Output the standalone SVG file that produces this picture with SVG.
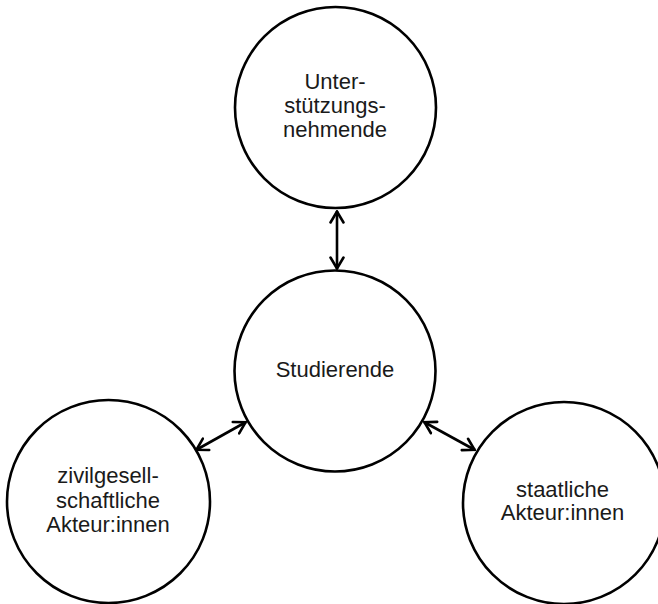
<svg xmlns="http://www.w3.org/2000/svg" width="658" height="604" viewBox="0 0 658 604">
<style>
.node circle{fill:#fff;stroke:#000;stroke-width:2.6}
.lbl{font-family:"Liberation Sans",Arial,sans-serif;font-size:22px;fill:#1a1a1a;text-anchor:middle}
.conn line{stroke:#000;stroke-width:2.6;fill:none}
</style>
<defs>
<marker id="ah" viewBox="0 0 14 16" refX="13" refY="8" markerWidth="14" markerHeight="16" markerUnits="userSpaceOnUse" orient="auto-start-reverse">
<path d="M1.5,1.5 L12.5,8 L1.5,14.5" fill="none" stroke="#000" stroke-width="2.6" stroke-linecap="round" stroke-linejoin="miter"/>
</marker>
</defs>
<rect width="658" height="604" fill="#fff"/>
<g id="conn" class="conn">
<line x1="337" y1="211" x2="337" y2="269" marker-start="url(#ah)" marker-end="url(#ah)"/>
<line x1="196" y1="450" x2="246" y2="422" marker-start="url(#ah)" marker-end="url(#ah)"/>
<line x1="424" y1="422" x2="475" y2="450" marker-start="url(#ah)" marker-end="url(#ah)"/>
</g>
<g id="node-top" class="node">
<circle cx="335.5" cy="107.5" r="100.5"/>
<text class="lbl" x="335" y="89">Unter-</text>
<text class="lbl" x="335" y="113">stützungs-</text>
<text class="lbl" x="335" y="137">nehmende</text>
</g>
<g id="node-center" class="node">
<circle cx="335" cy="371" r="100.5"/>
<text class="lbl" x="335" y="377">Studierende</text>
</g>
<g id="node-left" class="node">
<circle cx="108.5" cy="501.5" r="101.5"/>
<text class="lbl" x="108" y="483">zivilgesell-</text>
<text class="lbl" x="108" y="508">schaftliche</text>
<text class="lbl" x="108" y="532">Akteur:innen</text>
</g>
<g id="node-right" class="node">
<circle cx="564" cy="503" r="101"/>
<text class="lbl" x="562.5" y="497">staatliche</text>
<text class="lbl" x="562.5" y="520">Akteur:innen</text>
</g>
</svg>
